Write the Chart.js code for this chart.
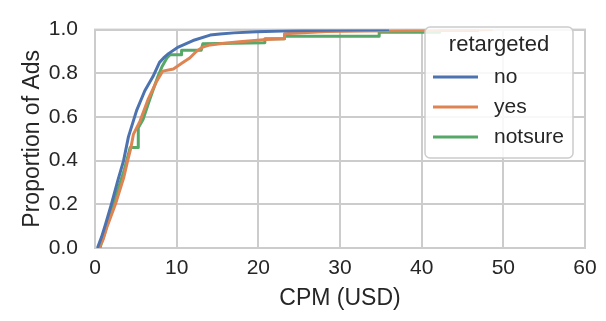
<!DOCTYPE html>
<html>
<head>
<meta charset="utf-8">
<script src="https://cdn.jsdelivr.net/npm/chart.js@4"></script>
<style>
  body { margin: 0; background: #fff; }
  #wrap { width: 606px; height: 321px; }
</style>
</head>
<body>
<div id="wrap"><canvas id="ecdfChart" width="606" height="321"></canvas></div>
<script>
// ECDF of CPM by retargeting group (vertices;
// a repeated x is a visible vertical step)
var noX = [0.3, 0.8, 1.3, 2.0, 2.8, 3.5, 4.1, 5.1, 6.1, 7.1, 7.9, 8.4, 9.0, 10.2, 12.0, 14.1, 15.3, 17.0, 19.8, 24.0, 30.0, 36.0];
var noY = [0.0, 0.05, 0.11, 0.2, 0.31, 0.4, 0.51, 0.63, 0.72, 0.785, 0.85, 0.87, 0.89, 0.92, 0.95, 0.975, 0.98, 0.985, 0.99, 0.995, 0.998, 1.0];

var yesX = [0.5, 1.0, 1.5, 2.5, 3.5, 4.0, 4.4, 4.7, 5.5, 6.5, 7.5, 8.3, 9.6, 10.8, 11.6, 12.4, 13.2, 14.1, 15.3, 17.7, 21.0, 23.2, 23.2, 28.3, 33.0, 44.0, 48.7];
var yesY = [0.0, 0.04, 0.1, 0.2, 0.32, 0.4, 0.46, 0.52, 0.58, 0.68, 0.76, 0.81, 0.82, 0.85, 0.87, 0.9, 0.92, 0.93, 0.935, 0.944, 0.955, 0.958, 0.981, 0.991, 0.994, 0.997, 1.0];

var notsureX = [0.6, 1.2, 1.8, 2.4, 3.0, 3.6, 4.3, 5.3, 5.3, 5.9, 6.7, 7.7, 8.2, 8.8, 9.2, 10.6, 10.6, 13.0, 13.2, 20.8, 20.8, 23.2, 23.2, 34.8, 34.8, 42.2, 42.2, 47.0];
var notsureY = [0.0, 0.07, 0.15, 0.22, 0.29, 0.36, 0.46, 0.46, 0.55, 0.59, 0.68, 0.785, 0.83, 0.87, 0.885, 0.885, 0.905, 0.905, 0.935, 0.94, 0.958, 0.958, 0.97, 0.97, 0.988, 0.988, 0.996, 0.996];

var groups = ['no', 'yes', 'notsure'];
var colors = ['#4c72b0', '#dd8452', '#55a868'];
var xTicks = [0, 10, 20, 30, 40, 50, 60];
var yTicks = [0, 0.2, 0.4, 0.6, 0.8, 1.0];

var FONT = "'Liberation Sans', Arial, sans-serif";
var TEXT = '#262626';
var GRID = '#cccccc';

function toPoints(xs, ys) {
  return xs.map(function (x, i) { return { x: x, y: ys[i] }; });
}

var seriesX = [noX, yesX, notsureX];
var seriesY = [noY, yesY, notsureY];

var datasets = groups.map(function (g, i) {
  return {
    label: g,
    data: toPoints(seriesX[i], seriesY[i]),
    borderColor: colors[i],
    backgroundColor: colors[i],
    borderWidth: 3,
    borderJoinStyle: 'round',
    pointRadius: 0,
    tension: 0,
    fill: false
  };
});

// frame around the plot area + legend box inside it
var framePlugin = {
  id: 'frame',
  beforeDatasetsDraw: function (chart) {
    var a = chart.chartArea, c = chart.ctx;
    c.save();
    c.strokeStyle = GRID;
    c.lineWidth = 2;
    c.strokeRect(a.left, a.top, a.right - a.left, a.bottom - a.top);
    c.restore();
  },
  afterDatasetsDraw: function (chart) {
    var c = chart.ctx;
    var bx = 425, by = 27, bw = 148, bh = 131, r = 5;
    c.save();
    c.beginPath();
    c.moveTo(bx + r, by);
    c.arcTo(bx + bw, by, bx + bw, by + bh, r);
    c.arcTo(bx + bw, by + bh, bx, by + bh, r);
    c.arcTo(bx, by + bh, bx, by, r);
    c.arcTo(bx, by, bx + bw, by, r);
    c.closePath();
    c.fillStyle = 'rgba(255,255,255,0.85)';
    c.fill();
    c.strokeStyle = GRID;
    c.lineWidth = 1.5;
    c.stroke();

    c.fillStyle = TEXT;
    c.textBaseline = 'middle';
    c.textAlign = 'center';
    c.font = '22px ' + FONT;
    c.fillText('retargeted', bx + bw / 2, 45);

    c.textAlign = 'left';
    c.font = '21px ' + FONT;
    var rowY = [77, 107, 137];
    groups.forEach(function (g, i) {
      c.strokeStyle = colors[i];
      c.lineWidth = 3;
      c.beginPath();
      c.moveTo(433, rowY[i]);
      c.lineTo(478, rowY[i]);
      c.stroke();
      c.fillText(g, 494, rowY[i]);
    });
    c.restore();
  }
};

var ctx = document.getElementById('ecdfChart').getContext('2d');
new Chart(ctx, {
  type: 'line',
  data: { datasets: datasets },
  options: {
    responsive: false,
    animation: false,
    layout: { padding: { top: 17, right: 21, left: 0, bottom: 0 } },
    plugins: { legend: { display: false }, tooltip: { enabled: false } },
    scales: {
      x: {
        type: 'linear',
        min: 0,
        max: 60,
        afterBuildTicks: function (s) { s.ticks = xTicks.map(function (v) { return { value: v }; }); },
        afterFit: function (s) { s.height = 73; },
        grid: { color: GRID, lineWidth: 2, drawTicks: false, tickLength: 0 },
        border: { display: false },
        ticks: { color: TEXT, font: { family: FONT, size: 21 }, padding: 8, maxRotation: 0 },
        title: { display: true, text: 'CPM (USD)', color: TEXT, font: { family: FONT, size: 23 }, padding: { top: 0, bottom: 9 } }
      },
      y: {
        min: 0,
        max: 1,
        afterBuildTicks: function (s) { s.ticks = yTicks.map(function (v) { return { value: v }; }); },
        afterFit: function (s) { s.width = 95; },
        grid: { color: GRID, lineWidth: 2, drawTicks: false, tickLength: 0 },
        border: { display: false },
        ticks: {
          color: TEXT, font: { family: FONT, size: 21 }, padding: 17,
          callback: function (v) { return v.toFixed(1); }
        },
        title: { display: true, text: 'Proportion of Ads', color: TEXT, font: { family: FONT, size: 23 }, padding: { top: 19, bottom: 0 } }
      }
    }
  },
  plugins: [framePlugin]
});
</script>
</body>
</html>
